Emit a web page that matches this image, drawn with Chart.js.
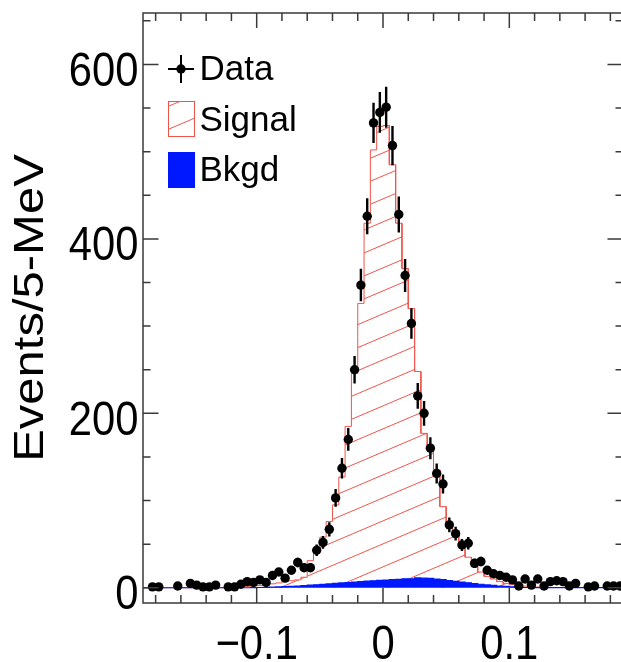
<!DOCTYPE html>
<html>
<head>
<meta charset="utf-8">
<script src="https://cdn.jsdelivr.net/npm/chart.js@4.4.1/dist/chart.umd.min.js"></script>
<style>
html, body { margin: 0; padding: 0; overflow: hidden; background: #fff; }
canvas { display: block; }
</style>
</head>
<body>
<canvas id="myChart1" width="640" height="662"></canvas>
<script>
// 76 bins of 5 MeV, -0.19 .. 0.19
var xMin = -0.19, xMax = 0.19, binWidth = 0.005;
var yMin = -17.5, yMax = 659;

// data counts per bin (0 = empty bin, not drawn)
var dataCounts = [
    0, 1, 1, 0, 0, 2, 0, 5, 3, 1, 1, 3, 0, 1, 1, 4, 7, 6, 9, 6,
    14, 18, 11, 20, 29, 23, 23, 43, 52, 67, 103, 137, 170, 250, 347, 426, 533, 545, 551, 507,
    428, 358, 303, 220, 200, 160, 131, 119, 72, 62, 49, 51, 28, 30, 20, 16, 14, 12, 9, 2,
    10, 3, 10, 2, 7, 8, 7, 2, 5, 0, 1, 2, 0, 2, 2, 2
];
// signal MC (hatched)
var signalHist = [
    0, 0, 0, 0, 0, 0, 0, 0, 0, 0, 0, 0, 0, 0.5, 0.8, 1, 1.5, 2, 2.5, 3.5,
    4.5, 5.5, 7, 8, 9, 12, 31, 40, 58, 76, 95, 127, 185, 246, 326, 418, 502, 529, 530, 485,
    418, 366, 320, 248, 177, 158, 135, 93, 70, 60, 52, 35, 24, 18, 13, 10, 7, 5, 3.5, 2.5,
    1.8, 1.2, 0.8, 0.5, 0.3, 0.3, 0.3, 0.3, 0.3, 0.3, 0.3, 0.3, 0.3, 0.3, 0.3, 0.3
];
// background (filled blue)
var bkgdHist = [
    0, 0, 0, 0, 0, 0, 0, 0, 0, 0, 0, 0, 0, 0, 0, 0, 0, 0.2, 0.3, 0.5,
    0.7, 0.9, 1.2, 1.6, 2.0, 2.5, 3.0, 3.4, 3.9, 4.4, 5.0, 5.5, 6.0, 6.6, 7.1, 7.6, 8.0, 8.5, 8.9, 9.3,
    9.7, 10.3, 10.2, 11.2, 11.0, 10.7, 10.0, 9.2, 8.3, 7.4, 6.5, 5.6, 4.8, 4.0, 3.2, 2.6, 2.0, 1.5, 1.0, 0.6,
    0.3, 0.1, 0.1, 0.1, 0.1, 0.1, 0.1, 0.1, 0.1, 0.1, 0.1, 0.1, 0.1, 0.1, 0.1, 0.1
];

var xMajorTicks = [-0.1, 0, 0.1];
var xTickLabels = ['\u22120.1', '0', '0.1'];
var yMajorTicks = [0, 200, 400, 600];
var yTickLabels = ['0', '200', '400', '600'];
var yTitle = 'Events/5-MeV';
var legendLabels = ['Data', 'Signal', 'Bkgd'];

var signalColor = 'rgb(240, 85, 75)';
var bkgdColor = 'rgb(0, 24, 255)';
var frameColor = '#3a3a3a';
var axisFont = "'Liberation Sans', Arial, Helvetica, sans-serif";

function binCenter(i) {
    return xMin + binWidth * (i + 0.5);
}

function stepPoints(values) {
    var pts = [];
    for (var i = 0; i < values.length; i++) {
        var lo = xMin + i * binWidth;
        pts.push({ x: lo, y: values[i] }, { x: lo + binWidth, y: values[i] });
    }
    return pts;
}

function dataPoints() {
    var pts = [];
    for (var i = 0; i < dataCounts.length; i++) {
        if (dataCounts[i] > 0) pts.push({ x: binCenter(i), y: dataCounts[i] });
    }
    return pts;
}

function makeHatch() {
    var w = 54, h = 23;
    var c = document.createElement('canvas');
    c.width = w; c.height = h;
    var g = c.getContext('2d');
    g.strokeStyle = signalColor;
    g.lineWidth = 1;
    g.beginPath();
    g.moveTo(0, h); g.lineTo(w, 0);
    g.moveTo(0, 0); g.lineTo(w, -h);
    g.moveTo(0, 2 * h); g.lineTo(w, h);
    g.stroke();
    var p = g.createPattern(c, 'repeat');
    p.setTransform(new DOMMatrix().translate(0, 17));
    return p;
}
var hatch = makeHatch();

// error bars under the data markers
const errorBars = {
    id: 'errorBars',
    beforeDatasetDraw(chart, args) {
        if (args.index !== 0) return;
        const ctx = chart.ctx, xs = chart.scales.x, ys = chart.scales.y;
        ctx.save();
        ctx.strokeStyle = '#000';
        ctx.lineWidth = 2.4;
        ctx.beginPath();
        for (let i = 0; i < dataCounts.length; i++) {
            const n = dataCounts[i];
            if (n <= 0) continue;
            const px = xs.getPixelForValue(binCenter(i));
            ctx.moveTo(px, ys.getPixelForValue(n - Math.sqrt(n)));
            ctx.lineTo(px, ys.getPixelForValue(n + Math.sqrt(n)));
        }
        ctx.stroke();
        ctx.restore();
    }
};

// ROOT-style frame, inward ticks, labels, legend
const rootAxes = {
    id: 'rootAxes',
    afterDatasetsDraw(chart) {
        const ctx = chart.ctx, a = chart.chartArea, xs = chart.scales.x, ys = chart.scales.y;
        ctx.save();
        ctx.strokeStyle = frameColor;
        ctx.lineWidth = 1.5;
        ctx.strokeRect(a.left, a.top, a.right - a.left, a.bottom - a.top);
        ctx.beginPath();
        for (let k = -9; k <= 9; k++) {
            const px = xs.getPixelForValue(k * 0.02);
            const len = k % 5 === 0 ? 15 : 8;
            ctx.moveTo(px, a.bottom); ctx.lineTo(px, a.bottom - len);
            ctx.moveTo(px, a.top); ctx.lineTo(px, a.top + len);
        }
        for (let k = 0; k * 50 <= yMax; k++) {
            const py = ys.getPixelForValue(k * 50);
            const len = k % 4 === 0 ? 15.5 : 7.5;
            ctx.moveTo(a.left, py); ctx.lineTo(a.left + len, py);
            ctx.moveTo(a.right, py); ctx.lineTo(a.right - len, py);
        }
        ctx.stroke();

        // axis text, slightly condensed like the original
        const sx = 0.87;
        ctx.fillStyle = '#000';
        ctx.font = '48px ' + axisFont;
        ctx.textBaseline = 'alphabetic';
        ctx.save();
        ctx.scale(sx, 1);
        ctx.textAlign = 'right';
        yMajorTicks.forEach(function (v, i) {
            ctx.fillText(yTickLabels[i], (a.left - 4.5) / sx, ys.getPixelForValue(v) + 21.5);
        });
        ctx.textAlign = 'center';
        xMajorTicks.forEach(function (v, i) {
            ctx.fillText(xTickLabels[i], xs.getPixelForValue(v) / sx, a.bottom + 55.5);
        });
        ctx.restore();

        ctx.save();
        ctx.translate(43, (a.top + a.bottom) / 2);
        ctx.scale(sx, 1);
        ctx.rotate(-Math.PI / 2);
        ctx.font = '49px ' + axisFont;
        ctx.textAlign = 'center';
        ctx.fillText(yTitle, 0, 0);
        ctx.restore();

        // legend
        const lx = a.left + 25, tx = a.left + 56.5;
        ctx.strokeStyle = '#000';
        ctx.lineWidth = 2;
        ctx.beginPath();
        ctx.moveTo(lx, 69); ctx.lineTo(lx + 26, 69);
        ctx.moveTo(lx + 13, 55); ctx.lineTo(lx + 13, 83);
        ctx.stroke();
        ctx.beginPath();
        ctx.arc(lx + 13, 69, 4.7, 0, Math.PI * 2);
        ctx.fill();

        ctx.save();
        ctx.beginPath();
        ctx.rect(lx, 101, 26.5, 35.5);
        ctx.clip();
        ctx.fillStyle = hatch;
        ctx.fillRect(lx, 101, 26.5, 35.5);
        ctx.restore();
        ctx.strokeStyle = signalColor;
        ctx.lineWidth = 1;
        ctx.strokeRect(lx + 0.5, 101.5, 26, 35);

        ctx.fillStyle = bkgdColor;
        ctx.fillRect(lx, 152, 27, 36);

        ctx.fillStyle = '#000';
        ctx.font = '35px ' + axisFont;
        ctx.textAlign = 'left';
        ctx.fillText(legendLabels[0], tx, 80);
        ctx.fillText(legendLabels[1], tx, 130.5);
        ctx.fillText(legendLabels[2], tx, 180.5);
        ctx.restore();
    }
};

let myChart1 = new Chart(document.getElementById('myChart1'), {
    type: 'line',
    data: {
        datasets: [
            {
                label: legendLabels[0],
                data: dataPoints(),
                showLine: false,
                pointRadius: 4.7,
                pointHoverRadius: 4.7,
                pointBackgroundColor: '#000',
                pointBorderColor: '#000',
                pointBorderWidth: 0,
                order: 0
            },
            {
                label: legendLabels[2],
                data: stepPoints(bkgdHist),
                borderColor: bkgdColor,
                backgroundColor: bkgdColor,
                borderWidth: 1.2,
                pointRadius: 0,
                tension: 0,
                fill: 'origin',
                order: 1
            },
            {
                label: legendLabels[1],
                data: stepPoints(signalHist),
                borderColor: signalColor,
                backgroundColor: hatch,
                borderWidth: 1,
                pointRadius: 0,
                tension: 0,
                fill: 'origin',
                order: 2
            }
        ]
    },
    options: {
        responsive: false,
        animation: false,
        events: [],
        layout: { padding: { left: 143, right: 17, top: 13, bottom: 59 } },
        scales: {
            x: { type: 'linear', min: xMin, max: xMax, display: false },
            y: { type: 'linear', min: yMin, max: yMax, display: false }
        },
        plugins: {
            legend: { display: false },
            tooltip: { enabled: false }
        }
    },
    plugins: [errorBars, rootAxes]
});
</script>
</body>
</html>
